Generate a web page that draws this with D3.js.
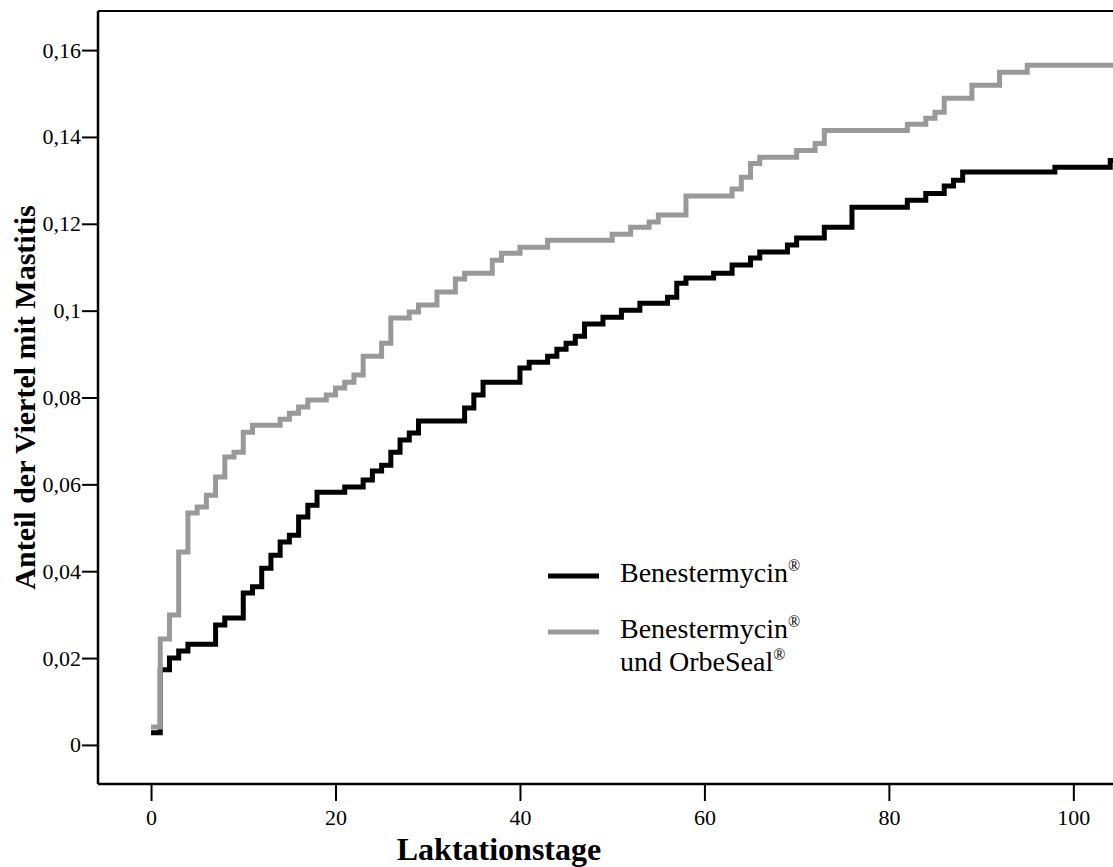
<!DOCTYPE html>
<html>
<head>
<meta charset="utf-8">
<script src="https://cdn.jsdelivr.net/npm/d3@7"></script>
<style>
  body { margin: 0; background: #fff; }
  svg text { font-family: "Liberation Serif", "Times New Roman", serif; fill: #000; }
</style>
</head>
<body>
<div id="chart"></div>
<script>
// Benestermycin (black): step positions (days) and cumulative share
const benDays = [0, 1, 2, 3, 4, 7, 8, 10, 11, 12, 13, 14, 15, 16, 17, 18, 21, 23, 24, 25, 26, 27, 28, 29,
  34, 35, 36, 40, 41, 43, 44, 45, 46, 47, 49, 51, 53, 56, 57, 58, 61, 63, 65, 66, 69, 70, 73, 76,
  82, 84, 86, 87, 88, 98, 104, 106];
const benVals = [0.0028, 0.0173, 0.0200, 0.0216, 0.0232, 0.0276, 0.0292, 0.0350, 0.0364, 0.0407, 0.0437, 0.0467, 0.0483, 0.0525, 0.0552, 0.0582, 0.0594, 0.0610, 0.0631, 0.0644, 0.0674, 0.0702, 0.0718, 0.0746,
  0.0776, 0.0806, 0.0835, 0.0868, 0.0881, 0.0895, 0.0911, 0.0925, 0.0941, 0.0969, 0.0985, 0.1001, 0.1017, 0.1031, 0.1063, 0.1075, 0.1086, 0.1105, 0.1121, 0.1135, 0.1151, 0.1167, 0.1192, 0.1238,
  0.1254, 0.1270, 0.1287, 0.1300, 0.1319, 0.1330, 0.1346, 0.1346];

// Benestermycin und OrbeSeal (grey)
const orbDays = [0, 1, 2, 3, 4, 5, 6, 7, 8, 9, 10, 11, 14, 15, 16, 17, 19, 20, 21, 22, 23, 25, 26, 28, 29,
  31, 33, 34, 37, 38, 40, 43, 50, 52, 54, 55, 58, 63, 64, 65, 66, 70, 72, 73, 82, 84, 85, 86, 89, 92, 95, 106];
const orbVals = [0.0041, 0.0244, 0.0299, 0.0444, 0.0534, 0.0548, 0.0575, 0.0617, 0.0663, 0.0674, 0.0720, 0.0736, 0.0750, 0.0764, 0.0778, 0.0794, 0.0806, 0.0822, 0.0835, 0.0852, 0.0895, 0.0925, 0.0983, 0.0997, 0.1013,
  0.1043, 0.1073, 0.1086, 0.1116, 0.1132, 0.1146, 0.1162, 0.1176, 0.1192, 0.1204, 0.1220, 0.1264, 0.1280, 0.1307, 0.1339, 0.1353, 0.1369, 0.1385, 0.1415, 0.1429, 0.1443, 0.1457, 0.1489, 0.1519, 0.1549, 0.1565, 0.1565];

const xTicks = [0, 20, 40, 60, 80, 100];
const yTicks = [0, 0.02, 0.04, 0.06, 0.08, 0.1, 0.12, 0.14, 0.16];
const seriesNames = ["Benestermycin", "Benestermycin", "und OrbeSeal"];

const W = 1113, H = 867;
const pLeft = 98, pTop = 11, pRight = 1113, pBottom = 784;
const serif = "'Liberation Serif', 'Times New Roman', serif";

const svg = d3.select("#chart").append("svg")
  .attr("width", W).attr("height", H);

const x = d3.scaleLinear().domain([-5.75, 104.3]).range([pLeft, pRight]);
const y = d3.scaleLinear().domain([-0.009, 0.169]).range([pBottom, pTop]);

const de = d3.formatLocale({decimal: ",", thousands: ".", grouping: [3], currency: ["", " €"]});
const fmt = de.format("~g");

// clip to plot area
svg.append("clipPath").attr("id", "plot")
  .append("rect").attr("x", pLeft).attr("y", pTop).attr("width", pRight - pLeft).attr("height", pBottom - pTop);

// frame: top line
svg.append("line").attr("x1", pLeft).attr("x2", pRight).attr("y1", pTop).attr("y2", pTop)
  .attr("stroke", "#000").attr("stroke-width", 2);

// axes
const xAxis = svg.append("g").attr("transform", `translate(0,${pBottom})`)
  .call(d3.axisBottom(x).tickValues(xTicks).tickSize(17).tickSizeOuter(0).tickPadding(8).tickFormat(d3.format("d")));
const yAxis = svg.append("g").attr("transform", `translate(${pLeft},0)`)
  .call(d3.axisLeft(y).tickValues(yTicks).tickSize(16).tickSizeOuter(0).tickPadding(1).tickFormat(fmt));

[xAxis, yAxis].forEach(a => {
  a.attr("font-family", serif).attr("font-size", 22);
  a.select(".domain").attr("stroke", "#000").attr("stroke-width", 2.5);
  a.selectAll(".tick line").attr("stroke", "#000").attr("stroke-width", 2);
  a.selectAll(".tick text").attr("fill", "#000");
});
// make the axis lines span the full frame
xAxis.select(".domain").attr("d", `M${pLeft},0H${pRight}`);
yAxis.select(".domain").attr("d", `M0,${pTop}V${pBottom}`);

// step lines
const line = d3.line().curve(d3.curveStepAfter).x(d => x(d[0])).y(d => y(d[1]));
const benData = d3.zip(benDays, benVals);
const orbData = d3.zip(orbDays, orbVals);

const plot = svg.append("g").attr("clip-path", "url(#plot)");
plot.append("path").datum(benData).attr("d", line)
  .attr("fill", "none").attr("stroke", "#000").attr("stroke-width", 5).attr("stroke-linejoin", "miter");
plot.append("path").datum(orbData).attr("d", line)
  .attr("fill", "none").attr("stroke", "#999").attr("stroke-width", 5).attr("stroke-linejoin", "miter");

// axis titles
svg.append("text").attr("x", 499).attr("y", 860)
  .attr("text-anchor", "middle").style("font-size", "32px").style("font-weight", "bold")
  .text("Laktationstage");
svg.append("text").attr("transform", `translate(35,${(pTop + pBottom) / 2}) rotate(-90)`)
  .attr("text-anchor", "middle").style("font-size", "30px").style("font-weight", "bold")
  .text("Anteil der Viertel mit Mastitis");

// legend
const legend = svg.append("g");
const items = [
  {color: "#000", y: 576, lines: [seriesNames[0]]},
  {color: "#999", y: 632, lines: [seriesNames[1], seriesNames[2]]}
];
items.forEach(it => {
  legend.append("line").attr("x1", 548).attr("x2", 599).attr("y1", it.y).attr("y2", it.y)
    .attr("stroke", it.color).attr("stroke-width", 5);
  it.lines.forEach((t, i) => {
    const tx = legend.append("text").attr("x", 620).attr("y", it.y + 6 + i * 33)
      .style("font-size", "28px");
    tx.append("tspan").text(t);
    tx.append("tspan").attr("dy", -11).style("font-size", "16px").text("®");
  });
});
</script>
</body>
</html>
